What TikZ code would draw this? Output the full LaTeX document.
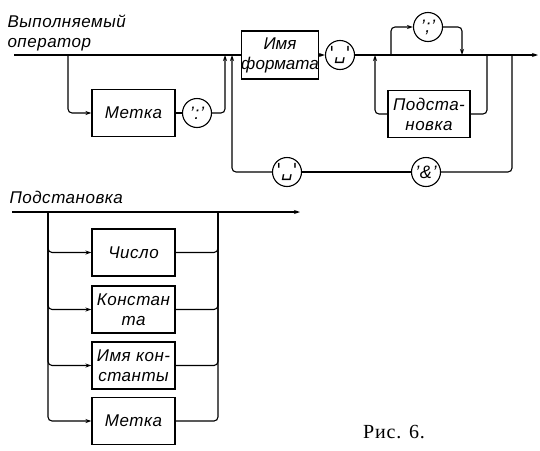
\documentclass[tikz,border=0pt]{standalone}
\usepackage{fontspec}
\setmainfont{Liberation Sans}[LetterSpace=3]
\newfontfamily\capfont{Liberation Serif}[LetterSpace=4]
\newfontfamily\symfont{DejaVu Sans}
\newfontfamily\tightfont{Liberation Sans}
\usetikzlibrary{arrows.meta}
\begin{document}
\begin{tikzpicture}[x=1pt,y=-1pt,
  line width=1.1pt,
  txt/.style={font=\fontsize{17}{20}\selectfont\itshape},
  box/.style={draw, txt, minimum width=83pt, minimum height=47pt, align=center, inner sep=1pt},
  term/.style={draw, circle, minimum size=29pt, inner sep=0pt, font=\fontsize{18}{20}\selectfont\itshape},
  arr/.style={-{Stealth[length=6pt,width=4pt]}},
  rc/.style={rounded corners=4pt}]
\useasboundingbox (0,0) rectangle (540,450);
% ---------- top diagram ----------
\node[txt, anchor=north west, align=left, inner sep=0pt] (t1) at (7,14) {Выполняемый\\оператор};
\coordinate (s1) at (14,55);
\coordinate (e1) at (538,55);
\coordinate (j1) at (68,55);
\coordinate (j2) at (225,55);
\coordinate (j3) at (232,55);
\coordinate (j4) at (375,55);
\coordinate (j5) at (391,55);
\coordinate (j6) at (462,55);
\coordinate (j7) at (487,55);
\coordinate (j8) at (512,55);
\node[box, minimum width=76pt, minimum height=48pt, inner sep=0pt, font=\tightfont\fontsize{17}{20}\selectfont\itshape] (fmt) at (280,55) {Имя\\формата};
\node[term] (sp1) at (340,55) {\symfont '␣'};
\node[box] (metka) at (133.5,113) {Метка};
\node[term] (colon) at (197,113) {':'};
\node[box, minimum width=82pt] (podst) at (429,114) {Подста-\\новка};
\node[term] (semi) at (428,27) {';'};
\node[term] (sp2) at (287,172) {\symfont '␣'};
\node[term] (amp) at (426,172) {'\&'};
\draw (s1) -- (fmt.west);
\draw[arr] (fmt) -- (sp1);
\draw[arr] (sp1.east) -- (e1);
\draw[arr,rc] (j1) |- (metka.west);
\draw (metka) -- (colon);
\draw[arr,rc] (colon.east) -| (j2);
\draw[rc] (j8) |- (amp.east);
\draw (amp) -- (sp2);
\draw[arr,rc] (sp2.west) -| (j3);
\draw[rc] (j7) |- (podst.east);
\draw[arr,rc] (podst.west) -| (j4);
\draw[arr,rc] (j5) |- (semi.west);
\draw[arr,rc] (semi.east) -| (j6);
% ---------- bottom diagram ----------
\node[txt, anchor=north west, inner sep=0pt] (t2) at (9,191) {Подстановка};
\coordinate (s2) at (12,212);
\coordinate (e2) at (300,212);
\coordinate (k1) at (48,212);
\coordinate (k2) at (218,212);
\draw[arr] (s2) -- (e2);
\node[box] (num) at (133.5,252.5) {Число};
\node[box] (cst) at (133.5,309.5) {Констан\\та};
\node[box] (cnm) at (133.5,365.5) {Имя кон-\\станты};
\node[box] (lab) at (133.5,421) {Метка};
\foreach \b in {num,cst,cnm,lab}{
  \draw[arr,rc] (k1) |- (\b.west);
  \draw[rc] (\b.east) -| (k2);
}
\node[font=\capfont\fontsize{20}{22}\selectfont] (cap) at (394,432) {Рис. 6.};
\end{tikzpicture}
\end{document}
